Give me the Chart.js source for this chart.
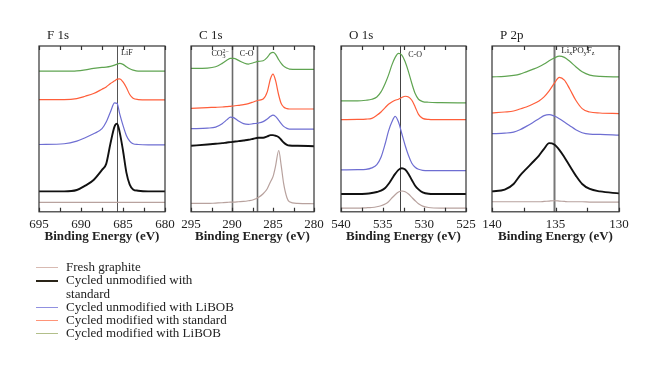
<!DOCTYPE html>
<html>
<head>
<meta charset="utf-8">
<script src="https://cdn.jsdelivr.net/npm/chart.js@4/dist/chart.umd.min.js"></script>
<style>
  body { margin: 0; background: #fff; }
  #wrap { position: relative; width: 660px; height: 371px; overflow: hidden; }
  canvas { position: absolute; top: 0; }
  #legend { position: absolute; left: 36px; top: 260px; font: 13px 'Liberation Serif', serif; color: #222; }
  .row { position: relative; padding-left: 30px; line-height: 13.3px; max-width: 172px; }
  .row span.ln { position: absolute; left: 0; top: 7px; width: 22px; height: 0; border-top: 1.5px solid; }
</style>
</head>
<body>
<div id="wrap">
  <canvas id="c-f1s" width="166" height="262"></canvas>
  <canvas id="c-c1s" width="163" height="262"></canvas>
  <canvas id="c-o1s" width="165" height="262"></canvas>
  <canvas id="c-p2p" width="167" height="262"></canvas>
  <div id="legend"></div>
</div>
<script>
// series shared by all four panels
const seriesNames = ['Fresh graphite', 'Cycled unmodified with standard', 'Cycled unmodified with LiBOB',
  'Cycled modified with standard', 'Cycled modified with LiBOB'];
const seriesColors = ['#b8a29e', '#111111', '#6e6ed2', '#ff5e3a', '#5fa451'];
const legendColors = ['#d8bab2', '#2a2418', '#9090e0', '#ff9478', '#b2bf8a'];

// F 1s (values = offset intensity, arbitrary units)
const f1sEnergy = [695, 692, 690.5, 689.5, 688.5, 687.5, 687, 686.5, 686, 685.7, 685.4, 685, 684.6, 684.2, 683.8, 683.2, 682, 680];
const f1sFresh = [9.3, 9.3, 9.3, 9.3, 9.3, 9.3, 9.3, 9.3, 9.3, 9.3, 9.3, 9.3, 9.3, 9.3, 9.3, 9.3, 9.3, 9.3];
const f1sUnmodStd = [20.3, 20.3, 21.7, 26, 31.7, 41.7, 47.7, 67.7, 85, 87.7, 79.3, 61, 39.3, 27, 22.3, 21, 20.3, 20.3];
const f1sUnmodLiBOB = [67, 67.7, 70.3, 73.7, 77.7, 82.7, 89.3, 99.3, 108.3, 107.7, 97.7, 86, 76, 70.3, 67.7, 67, 66.7, 66.7];
const f1sModStd = [111.7, 111.7, 112.7, 115, 117.7, 122, 124.3, 127.7, 130.3, 132, 132.3, 129.3, 123.7, 116.7, 113, 111.7, 111.3, 111.3];
const f1sModLiBOB = [140, 140, 140.3, 141.3, 142.7, 143.7, 144, 144.7, 146, 147, 147.7, 146.7, 144.3, 142.3, 141, 140, 140, 140];

// C 1s
const c1sEnergy = [295, 293, 292, 291.2, 290.6, 290.2, 289.8, 289.2, 288.6, 288, 287.4, 286.8, 286.2, 285.7, 285.3, 285, 284.7, 284.3, 284, 283.7, 283.3, 283, 282, 280];
const c1sFresh = [8.3, 8.3, 8.7, 9, 9.3, 9.7, 9.7, 10, 10.3, 11, 12, 14.3, 18, 23, 30, 35, 45, 61, 46, 28, 14, 10, 8.3, 8];
const c1sUnmodStd = [65.7, 67, 67.7, 68.3, 69, 69.3, 69.7, 70.3, 71, 71.7, 72.7, 73.7, 73.7, 75, 76.3, 76.3, 75.7, 74.3, 71.7, 69, 66.7, 66, 65.7, 65.3];
const c1sUnmodLiBOB = [82.7, 83.3, 84.3, 87.7, 91.7, 94.3, 93.7, 90.3, 87.7, 87, 87.7, 88.3, 89.7, 92.3, 95, 96.3, 95, 91, 87.7, 85, 83, 82.3, 82.3, 82.3];
const c1sModStd = [103, 103.7, 104, 104.3, 104.7, 105, 105.3, 106, 106.7, 107.7, 109.3, 111, 112.3, 119.3, 132.7, 137, 131, 116, 107.7, 104.3, 102.7, 102.3, 102.3, 102.3];
const c1sModLiBOB = [142.7, 143, 144.3, 147.7, 151, 152.7, 152.7, 150.7, 148.3, 147, 148.3, 149.7, 150.3, 153.7, 157.7, 158.7, 157, 151.3, 147.7, 145, 143, 142, 141.7, 141.7];

// O 1s
const o1sEnergy = [540, 538, 537, 536.3, 535.7, 535.2, 534.7, 534.3, 533.9, 533.5, 533.1, 532.7, 532.3, 531.9, 531.5, 531.1, 530.7, 530.2, 529.5, 528, 525];
const o1sFresh = [3.7, 3.7, 4, 4.3, 5, 6, 7.7, 10, 13.7, 17, 19.7, 20.7, 20, 17.7, 14.3, 11, 8, 5.7, 4.3, 3.7, 3.7];
const o1sUnmodStd = [17.7, 17.7, 18, 18.7, 19.7, 21, 23.7, 27.7, 32.7, 37.7, 41.7, 43.3, 42, 37.7, 31.7, 26, 22.3, 19.3, 18, 17.7, 17.7];
const o1sUnmodLiBOB = [41.7, 42, 42.3, 43.7, 47, 54.3, 67.7, 80.3, 89.3, 95, 89.3, 77.7, 66, 56, 48.3, 44.3, 42.3, 41.3, 41, 41, 41];
const o1sModStd = [91.7, 92, 92.3, 93, 96, 99.3, 103.7, 107, 109.3, 111, 112, 113.7, 115, 114.3, 111, 104.3, 97, 93, 92, 91.7, 91.7];
const o1sModLiBOB = [110.3, 110.3, 111, 112, 114.3, 119.3, 127.7, 136, 146, 153.7, 157.7, 156, 149.3, 139.3, 127.7, 117.7, 112, 109.7, 109, 108.7, 108.3];

// P 2p
const p2pEnergy = [140, 139, 138.3, 137.8, 137.3, 136.8, 136.3, 135.9, 135.5, 135.1, 134.7, 134.3, 133.9, 133.4, 132.9, 132.3, 131.5, 130];
const p2pFresh = [10, 10, 10, 10, 10, 10, 10, 10.3, 10.7, 11, 10.7, 10.3, 10, 10, 10, 9.7, 9.7, 9.7];
const p2pUnmodStd = [20.3, 22, 27.7, 36, 42.7, 49.3, 56, 62.7, 68.3, 67, 61.7, 54.3, 46, 36, 27.7, 22.7, 20.3, 18.3];
const p2pUnmodLiBOB = [77.7, 78.3, 79.3, 81.7, 85, 88.7, 92.7, 95.7, 96.7, 95.3, 92.7, 89.3, 86, 81.7, 78.7, 77.3, 77, 76.3];
const p2pModStd = [98.3, 99.3, 100.3, 102.3, 104.3, 107, 110.3, 114.3, 120.3, 127.7, 133.7, 131, 122.7, 111, 102.7, 99.3, 98.3, 97.7];
const p2pModLiBOB = [134.3, 134.7, 135.7, 137, 139.3, 141.7, 144.3, 147, 150.3, 153, 155, 153.7, 150, 144.3, 139.3, 136, 134.7, 134.3];

// reference lines (eV) and their labels
const f1sMarkers = [685.7];
const c1sMarkers = [290, 287];
const o1sMarkers = [532.9];
const p2pMarkers = [135.1];

const panels = [
  { id: 'c-f1s', left: 39, title: 'F 1s', min: 680, max: 695, energy: f1sEnergy,
    series: [f1sFresh, f1sUnmodStd, f1sUnmodLiBOB, f1sModStd, f1sModLiBOB],
    markers: f1sMarkers, lineColor: '#555', lineWidth: 1,
    labels: [{ at: 685.7, side: 'right', dx: 4, y: 53, size: 8, parts: [['LiF', 0]] }] },
  { id: 'c-c1s', left: 191, title: 'C 1s', min: 280, max: 295, energy: c1sEnergy,
    series: [c1sFresh, c1sUnmodStd, c1sUnmodLiBOB, c1sModStd, c1sModLiBOB],
    markers: c1sMarkers, lineColor: '#6a6a6a', lineWidth: 1.6,
    labels: [{ at: 290, side: 'left', dx: 3, y: 54, size: 8, parts: [['CO', 0], ['3', 1, '2\u2212']] },
             { at: 287, side: 'left', dx: 3, y: 54, size: 8, parts: [['C-O', 0]] }] },
  { id: 'c-o1s', left: 341, title: 'O 1s', min: 525, max: 540, energy: o1sEnergy,
    series: [o1sFresh, o1sUnmodStd, o1sUnmodLiBOB, o1sModStd, o1sModLiBOB],
    markers: o1sMarkers, lineColor: '#444', lineWidth: 1,
    labels: [{ at: 532.9, side: 'right', dx: 8, y: 55, size: 8, parts: [['C-O', 0]] }] },
  { id: 'c-p2p', left: 492, title: 'P 2p', min: 130, max: 140, energy: p2pEnergy,
    series: [p2pFresh, p2pUnmodStd, p2pUnmodLiBOB, p2pModStd, p2pModLiBOB],
    markers: p2pMarkers, lineColor: '#777', lineWidth: 2,
    labels: [{ at: 135.1, side: 'right', dx: 7, y: 51, size: 9, parts: [['Li', 0], ['x', 1], ['PO', 0], ['y', 1], ['F', 0], ['z', 1]] }] }
];

// draws frame, inward ticks, reference lines and panel title
const panelDecor = {
  id: 'panelDecor',
  beforeDatasetsDraw(chart) {
    const p = chart.options.plugins.panelDecor;
    const { ctx, chartArea: a } = chart;
    const xs = chart.scales.x;
    ctx.save();
    ctx.strokeStyle = p.lineColor;
    ctx.lineWidth = p.lineWidth;
    p.markers.forEach(m => {
      const x = Math.round(xs.getPixelForValue(m)) + 0.5;
      ctx.beginPath(); ctx.moveTo(x, a.top); ctx.lineTo(x, a.bottom); ctx.stroke();
    });
    ctx.restore();
  },
  afterDraw(chart) {
    const p = chart.options.plugins.panelDecor;
    const { ctx, chartArea: a } = chart;
    const xs = chart.scales.x;
    ctx.save();
    ctx.strokeStyle = '#333';
    ctx.lineWidth = 1.2;
    ctx.strokeRect(a.left, a.top, a.right - a.left, a.bottom - a.top);
    xs.ticks.forEach(t => {
      const x = Math.round(xs.getPixelForValue(t.value)) + 0.5;
      ctx.beginPath();
      ctx.moveTo(x, a.bottom); ctx.lineTo(x, a.bottom - 4);
      ctx.moveTo(x, a.top); ctx.lineTo(x, a.top + 4);
      ctx.stroke();
    });
    // panel title
    ctx.fillStyle = '#222';
    ctx.font = '13px "Liberation Serif"';
    ctx.textBaseline = 'alphabetic';
    ctx.fillText(p.title, a.left + 8, a.top - 7);
    // marker labels with sub/superscripts
    ctx.textBaseline = 'middle';
    p.labels.forEach(l => {
      const small = Math.round(l.size * 0.72);
      const widths = l.parts.map(([txt, sub, sup]) => {
        ctx.font = (sub ? small : l.size) + 'px "Liberation Serif"';
        let w = ctx.measureText(txt).width;
        if (sup) w = Math.max(w, ctx.measureText(sup).width);
        return w;
      });
      const total = widths.reduce((s, w) => s + w, 0);
      const lx = xs.getPixelForValue(l.at);
      let x = l.side === 'right' ? lx + l.dx : lx - l.dx - total;
      l.parts.forEach(([txt, sub, sup], i) => {
        ctx.font = (sub ? small : l.size) + 'px "Liberation Serif"';
        ctx.fillText(txt, x, l.y + (sub ? 2.5 : 0));
        if (sup) ctx.fillText(sup, x, l.y - 3);
        x += widths[i];
      });
    });
    ctx.restore();
  }
};

function buildPanel(p) {
  const canvas = document.getElementById(p.id);
  canvas.style.left = (p.left - 20) + 'px';
  const datasets = p.series.map((vals, i) => ({
    label: seriesNames[i],
    data: p.energy.map((e, k) => ({ x: e, y: vals[k] })),
    borderColor: seriesColors[i],
    borderWidth: i === 1 ? 1.9 : 1.2,
    pointRadius: 0,
    cubicInterpolationMode: 'monotone',
    fill: false
  }));
  return new Chart(canvas, {
    type: 'line',
    data: { datasets },
    options: {
      responsive: false,
      animation: false,
      layout: { padding: { left: 20, right: 20, top: 46, bottom: 16 } },
      scales: {
        x: {
          type: 'linear', reverse: true, min: p.min, max: p.max,
          grid: { display: false, drawTicks: false },
          border: { display: false },
          ticks: {
            stepSize: 2.5, autoSkip: false, maxRotation: 0, padding: 5,
            color: '#222', font: { family: 'Liberation Serif', size: 13 },
            callback: v => (v % 5 === 0 ? v : '')
          },
          title: { display: true, text: 'Binding Energy (eV)', color: '#222',
            font: { family: 'Liberation Serif', size: 13, weight: 'bold' }, padding: { top: -9, bottom: 2 } }
        },
        y: { display: false, min: 0, max: 165 }
      },
      plugins: {
        legend: { display: false },
        tooltip: { enabled: false },
        panelDecor: { title: p.title, markers: p.markers, lineColor: p.lineColor,
          lineWidth: p.lineWidth, labels: p.labels }
      }
    },
    plugins: [panelDecor]
  });
}

panels.forEach(buildPanel);

// legend below the panels
const legend = document.getElementById('legend');
seriesNames.forEach((name, i) => {
  const row = document.createElement('div');
  row.className = 'row';
  const ln = document.createElement('span');
  ln.className = 'ln';
  ln.style.borderColor = legendColors[i];
  if (i === 1) ln.style.borderTopWidth = '2px';
  row.appendChild(ln);
  row.appendChild(document.createTextNode(name));
  legend.appendChild(row);
});
</script>
</body>
</html>
